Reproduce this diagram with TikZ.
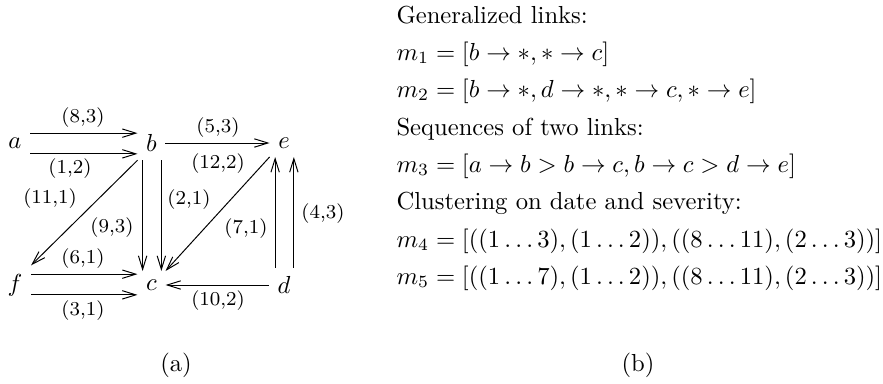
\documentclass[tikz,border=0pt]{standalone}
\usepackage{amsmath}
\usepackage{tikz}
\usetikzlibrary{arrows.meta,positioning}

\begin{document}
\begin{tikzpicture}[x=0.406pt,y=-0.406pt,>={Straight Barb[length=5.5pt,width=3.4pt]},
  vtx/.style={inner sep=3.33pt},
  lnk/.style={->,line width=0.4pt},
  wt/.style={font=\footnotesize,inner sep=0pt},
  txt/.style={anchor=base west,inner sep=0pt}]
\useasboundingbox (0,0) rectangle (883,383);
% (a) the graph of links
\node[vtx] (a) at (15,143) {$a$};
\node[vtx] (b) at (151.5,143) {$b$};
\node[vtx] (e) at (284,143) {$e$};
\node[vtx] (f) at (15,285) {$f$};
\node[vtx] (c) at (151.5,285) {$c$};
\node[vtx] (d) at (284,285) {$d$};

\draw[lnk] ([yshift=4pt]a.east) -- ([yshift=4pt]b.west);
\draw[lnk] ([yshift=-4.4pt]a.east) -- ([yshift=-4.4pt]b.west);
\draw[lnk] (b.east) -- (e.west);
\draw[lnk] (b.south west) -- (f.north east);
\draw[lnk] ([xshift=-3.6pt]b.south) -- ([xshift=-3.6pt]c.north);
\draw[lnk] ([xshift=4pt]b.south) -- ([xshift=4pt]c.north);
\draw[lnk] (e.south west) -- (c.north east);
\draw[lnk] ([xshift=-3.6pt]d.north) -- ([xshift=-3.6pt]e.south);
\draw[lnk] ([xshift=4pt]d.north) -- ([xshift=4pt]e.south);
\draw[lnk] ([yshift=4.4pt]f.east) -- ([yshift=4.4pt]c.west);
\draw[lnk] ([yshift=-4pt]f.east) -- ([yshift=-4pt]c.west);
\draw[lnk] (d.west) -- (c.east);

\foreach \nm/\x/\y/\t in {w83/83/118/{(8,3)},w12/70/169/{(1,2)},w53/218/128/{(5,3)},
    w122/218/164/{(12,2)},w111/50/199/{(11,1)},w93/112/228/{(9,3)},w21/189/200/{(2,1)},
    w71/246/229/{(7,1)},w43/323/214/{(4,3)},w61/83/259/{(6,1)},w31/83/311/{(3,1)},
    w102/218/301/{(10,2)}}
  \node[wt] (\nm) at (\x,\y) {\t};
\node (capa) at (176,365) {(a)};

% (b) the meta-links
\node[txt] (g1) at (396,23) {Generalized links:};
\node[txt] (m1) at (396,60) {$m_1=[b\rightarrow *,*\rightarrow c]$};
\node[txt] (m2) at (396,97) {$m_2=[b\rightarrow *,d\rightarrow *,*\rightarrow c,*\rightarrow e]$};
\node[txt] (g2) at (396,135) {Sequences of two links:};
\node[txt] (m3) at (396,172) {$m_3=[a\rightarrow b>b\rightarrow c,b\rightarrow c>d\rightarrow e]$};
\node[txt] (g3) at (396,209) {Clustering on date and severity:};
\node[txt] (m4) at (396,247) {$m_4=[((1\ldots3),(1\ldots2)),((8\ldots11),(2\ldots3))]$};
\node[txt] (m5) at (396,284) {$m_5=[((1\ldots7),(1\ldots2)),((8\ldots11),(2\ldots3))]$};
\node (capb) at (638,365) {(b)};
\end{tikzpicture}
\end{document}
